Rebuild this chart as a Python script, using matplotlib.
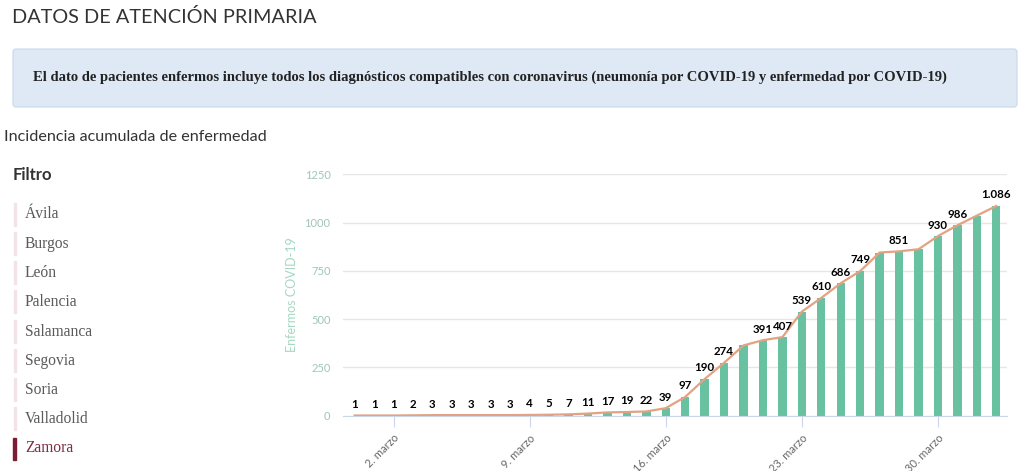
"""
datos de atencion primaria - zamora
"""
import pandas as pd
import matplotlib.pyplot as plt
from matplotlib.patches import Rectangle, FancyBboxPatch

# data
dates = pd.date_range('2020-02-29', '2020-04-02', freq='D')
enfermos = [1, 1, 1, 2, 3, 3, 3, 3, 3, 4, 5, 7, 11, 17, 19, 22, 39, 97, 190,
            274, 364, 391, 407, 539, 610, 686, 749, 845, 851, 862, 930, 986,
            1036, 1086]
# labels hidden by the chart (overlap)
hidden_labels = ['2020-03-20', '2020-03-27', '2020-03-29', '2020-04-01']
tick_dates = ['2020-03-02', '2020-03-09', '2020-03-16', '2020-03-23', '2020-03-30']
yticks = [0, 250, 500, 750, 1000, 1250]
provincias = ['Ávila', 'Burgos', 'León', 'Palencia', 'Salamanca', 'Segovia',
              'Soria', 'Valladolid', 'Zamora']
selected = 'Zamora'

title = 'DATOS DE ATENCIÓN PRIMARIA'
note = ('El dato de pacientes enfermos incluye todos los diagnósticos compatibles '
        'con coronavirus (neumonía por COVID-19 y enfermedad por COVID-19)')
subtitle = 'Incidencia acumulada de enfermedad'

BAR = '#68c1a0'
LINE = '#e3a282'
W, H = 1024, 471

fig = plt.figure(figsize=(W / 100, H / 100), dpi=100)

# page layer in pixel coords
bg = fig.add_axes([0, 0, 1, 1])
bg.set_xlim(0, W)
bg.set_ylim(H, 0)
bg.axis('off')

bg.text(12, 17, title, fontsize=14.3, family='Lato', color='#333333', va='center')
bg.add_patch(FancyBboxPatch((13, 49), 1004, 58, boxstyle='round,pad=0,rounding_size=3',
                            facecolor='#dfe9f5', edgecolor='#c8d8ea', lw=0.8))
bg.text(33, 77, note, fontsize=10.55, family='Liberation Serif', weight='bold',
        color='#222222', va='center')
bg.text(4, 137, subtitle, fontsize=11.6, family='Lato', color='#333333', va='center')
bg.text(13, 175, 'Filtro', fontsize=12, family='Lato', weight='bold',
        color='#333333', va='center')

for i, prov in enumerate(provincias):
    y = 214.5 + i * 29.25
    if prov == selected:
        bg.add_patch(Rectangle((13, y - 11), 3, 22, color='#7b1d34'))
        color = '#7b2f42'
    else:
        bg.add_patch(Rectangle((14, y - 12), 2, 23, color='#f3e3e7'))
        color = '#5a5a5a'
    bg.text(25, y, prov, fontsize=11.2, family='Liberation Serif', color=color,
            va='center')

# chart
ax = fig.add_axes([343 / W, 1 - 415.7 / H, 664 / W, (415.7 - 174.3) / H])
x = list(range(len(dates)))
ax.bar(x, enfermos, width=0.43, color=BAR, zorder=2)
ax.plot(x, enfermos, color=LINE, lw=1.6, zorder=3)

hidden = pd.to_datetime(hidden_labels)
for xi, d, v in zip(x, dates, enfermos):
    if d in hidden:
        continue
    ax.annotate(f'{v:,}'.replace(',', '.'), (xi, v), xytext=(0, 4),
                textcoords='offset points', ha='center', va='bottom',
                fontsize=8.3, family='Lato', weight='bold', color='black',
                zorder=4)

ax.set_xlim(-0.6, len(dates) - 1 + 0.55)
ax.set_ylim(0, 1250)
ax.set_yticks(yticks)
ax.set_yticklabels([str(t) for t in yticks], family='Lato', fontsize=8,
                   color='#9fc5b8')
ax.tick_params(axis='y', length=0, pad=9)
ax.grid(axis='y', color='#e6e6e6', lw=1, zorder=0)

tick_pos = [list(dates).index(pd.Timestamp(t)) for t in tick_dates]
ax.set_xticks(tick_pos)
ax.set_xticklabels([f'{pd.Timestamp(t).day}. marzo' for t in tick_dates],
                   rotation=45, ha='right', rotation_mode='anchor',
                   family='Lato', fontsize=8, color='#666666')
ax.tick_params(axis='x', length=8, color='#ccd6eb', pad=4)

for side in ['top', 'right', 'left']:
    ax.spines[side].set_visible(False)
ax.spines['bottom'].set_color('#ccd6eb')

ax.set_ylabel('Enfermos COVID-19', family='Lato', fontsize=9, color='#a5d8c3',
              labelpad=5)

fig.savefig('out.png', dpi=100)
